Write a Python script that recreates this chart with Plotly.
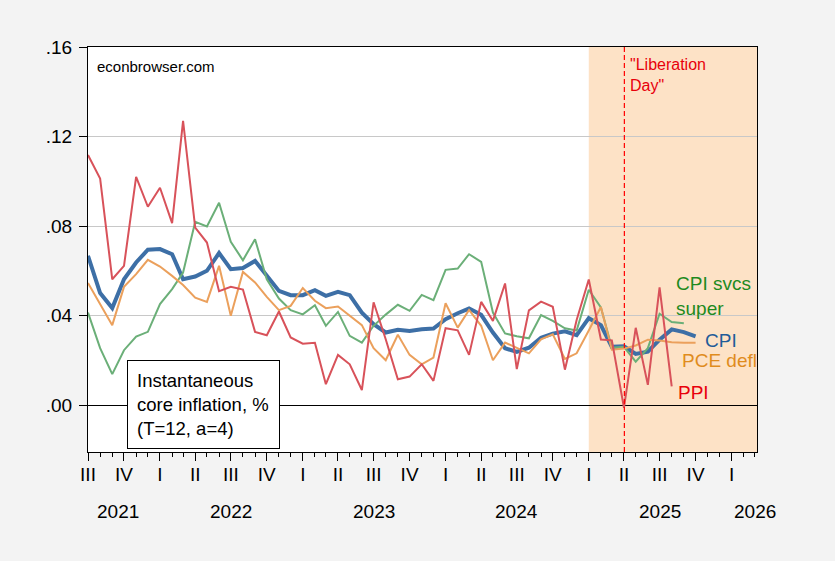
import plotly.graph_objects as go
import pandas as pd

# ---------------- data ----------------
start_month = "2021-07-01"

cpi = [0.0667, 0.0500, 0.0433, 0.0562, 0.0637, 0.0694, 0.0697, 0.0674, 0.0562, 0.0574,
       0.0600, 0.0679, 0.0607, 0.0612, 0.0644, 0.0577, 0.0510, 0.0491, 0.0491, 0.0513,
       0.0488, 0.0506, 0.0491, 0.0413, 0.0361, 0.0324, 0.0336, 0.0331, 0.0339, 0.0342,
       0.0384, 0.0410, 0.0431, 0.0403, 0.0324, 0.0254, 0.0237, 0.0256, 0.0301, 0.0319,
       0.0329, 0.0312, 0.0388, 0.0357, 0.0260, 0.0262, 0.0228, 0.0238, 0.0292, 0.0338,
       0.0326, 0.0307]

cpi_svcs_super = [0.0413, 0.0254, 0.0138, 0.0245, 0.0306, 0.0327, 0.0451, 0.0518, 0.0592, 0.0819,
                  0.0798, 0.0904, 0.0729, 0.0647, 0.0741, 0.0562, 0.0476, 0.0424, 0.0405, 0.0446,
                  0.0354, 0.0416, 0.0309, 0.0279, 0.0354, 0.0404, 0.0448, 0.0421, 0.0492, 0.0469,
                  0.0604, 0.0610, 0.0674, 0.0640, 0.0413, 0.0320, 0.0307, 0.0298, 0.0402, 0.0376,
                  0.0343, 0.0333, 0.0515, 0.0436, 0.0256, 0.0260, 0.0194, 0.0254, 0.0408, 0.0371,
                  0.0365]

pce_defl = [0.0545, 0.0451, 0.0357, 0.0528, 0.0585, 0.0649, 0.0619, 0.0577, 0.0536, 0.0480,
            0.0461, 0.0622, 0.0399, 0.0595, 0.0548, 0.0483, 0.0424, 0.0443, 0.0523, 0.0466,
            0.0433, 0.0440, 0.0400, 0.0357, 0.0254, 0.0200, 0.0314, 0.0224, 0.0182, 0.0212,
            0.0455, 0.0346, 0.0425, 0.0354, 0.0200, 0.0279, 0.0255, 0.0231, 0.0293, 0.0316,
            0.0206, 0.0231, 0.0333, 0.0438, 0.0247, 0.0252, 0.0266, 0.0292, 0.0288, 0.0281,
            0.0278, 0.0278]

ppi = [0.1117, 0.1012, 0.0562, 0.0622, 0.1020, 0.0886, 0.0971, 0.0813, 0.1270, 0.0793,
       0.0726, 0.0509, 0.0528, 0.0516, 0.0327, 0.0312, 0.0418, 0.0302, 0.0274, 0.0278,
       0.0093, 0.0224, 0.0182, 0.0067, 0.0459, 0.0294, 0.0115, 0.0127, 0.0182, 0.0108,
       0.0343, 0.0334, 0.0224, 0.0461, 0.0376, 0.0543, 0.0161, 0.0423, 0.0462, 0.0439,
       0.0158, 0.0380, 0.0561, 0.0293, 0.0289, -0.0012, 0.0345, 0.0090, 0.0526, 0.0083]

quarter_labels = ["III", "IV", "I", "II", "III", "IV", "I", "II", "III", "IV",
                  "I", "II", "III", "IV", "I", "II", "III", "IV", "I"]
year_labels = ["2021", "2022", "2023", "2024", "2025", "2026"]
year_label_dates = ["2021-09-15", "2022-07-01", "2023-07-01", "2024-07-01", "2025-07-01", "2026-03-01"]

y_tick_vals = [0.0, 0.04, 0.08, 0.12, 0.16]
y_tick_text = [".00", ".04", ".08", ".12", ".16"]

shade_start = "2025-01-01"
liberation_day = "2025-04-02"
x_end = "2026-03-07"

# ---------------- figure ----------------
FONT = "Liberation Sans, Arial, sans-serif"

def months_for(series):
    return pd.date_range(start_month, periods=len(series), freq="MS")

quarter_ticks = pd.date_range(start_month, periods=len(quarter_labels), freq="QS")

fig = go.Figure()
fig.add_trace(go.Scatter(x=months_for(cpi), y=cpi, mode="lines", name="CPI",
                         line=dict(color="#3d6fa6", width=4)))
fig.add_trace(go.Scatter(x=months_for(cpi_svcs_super), y=cpi_svcs_super, mode="lines",
                         name="CPI svcs super", line=dict(color="#6baf78", width=2)))
fig.add_trace(go.Scatter(x=months_for(pce_defl), y=pce_defl, mode="lines", name="PCE defl",
                         line=dict(color="#eba05c", width=2)))
fig.add_trace(go.Scatter(x=months_for(ppi), y=ppi, mode="lines", name="PPI",
                         line=dict(color="#d8525a", width=2)))

fig.add_shape(type="rect", xref="x", yref="paper", x0=shade_start, x1=x_end, y0=0, y1=1,
              fillcolor="#fde2c6", line=dict(width=0), layer="below")
fig.add_shape(type="line", xref="x", yref="paper", x0=liberation_day, x1=liberation_day,
              y0=0, y1=1, line=dict(color="#ff0000", width=1.2, dash="5px,3px"), layer="above")

annotations = []
for txt, xd in zip(year_labels, year_label_dates):
    annotations.append(dict(x=xd, y=-0.146, xref="x", yref="paper", text=txt, showarrow=False,
                            xanchor="center", yanchor="middle",
                            font=dict(family=FONT, size=19, color="black")))

annotations += [
    dict(x=0.011, y=0.953, xref="paper", yref="paper", text="econbrowser.com", showarrow=False,
         xanchor="left", yanchor="middle", font=dict(family=FONT, size=15, color="black")),
    dict(x="2025-04-10", y=0.931, xref="x", yref="paper", text="\"Liberation<br>Day\"",
         showarrow=False, xanchor="left", yanchor="middle", align="left",
         font=dict(family=FONT, size=16, color="#e8000b")),
    dict(x="2025-08-08", y=0.0489, xref="x", yref="y", text="CPI svcs<br>super", showarrow=False,
         xanchor="left", yanchor="middle", align="left",
         font=dict(family=FONT, size=19, color="#1e8a1e")),
    dict(x="2025-10-20", y=0.029, xref="x", yref="y", text="CPI", showarrow=False,
         xanchor="left", yanchor="middle", font=dict(family=FONT, size=19, color="#1f5c99")),
    dict(x="2025-08-22", y=0.0201, xref="x", yref="y", text="PCE defl", showarrow=False,
         xanchor="left", yanchor="middle", font=dict(family=FONT, size=19, color="#e08c1e")),
    dict(x="2025-08-13", y=0.0054, xref="x", yref="y", text="PPI", showarrow=False,
         xanchor="left", yanchor="middle", font=dict(family=FONT, size=19, color="#e8000b")),
    dict(x=0.0583, y=0.0074, xref="paper", yref="paper",
         text="Instantaneous<br>core inflation, %<br>(T=12, a=4)", showarrow=False,
         xanchor="left", yanchor="bottom", align="left", bgcolor="white",
         bordercolor="black", borderwidth=1, borderpad=9, width=133, height=69,
         font=dict(family=FONT, size=18.5, color="black")),
]

fig.update_layout(
    width=835, height=561,
    margin=dict(l=88, r=78, t=47, b=109),
    paper_bgcolor="#f3f3f3", plot_bgcolor="white",
    showlegend=False,
    font=dict(family=FONT, size=19, color="black"),
    annotations=annotations,
    xaxis=dict(type="date", range=[start_month, x_end], tickmode="array",
               tickvals=quarter_ticks, ticktext=quarter_labels,
               ticks="outside", ticklen=8, tickcolor="black", tickwidth=1,
               showline=True, linecolor="black", linewidth=1, mirror=True,
               showgrid=False, zeroline=False, ticklabelstandoff=-3,
               tickfont=dict(family=FONT, size=19, color="black"),
               minor=dict(ticks="outside", ticklen=4, tickcolor="black", tickmode="linear",
                          dtick="M1", tick0=start_month, showgrid=False)),
    yaxis=dict(range=[-0.021, 0.16], tickmode="array", tickvals=y_tick_vals, ticktext=y_tick_text,
               ticks="outside", ticklen=8, tickcolor="black", tickwidth=1,
               showline=True, linecolor="black", linewidth=1, mirror=True,
               showgrid=True, gridcolor="#c8c8c8", gridwidth=1,
               zeroline=True, zerolinecolor="black", zerolinewidth=1, ticklabelstandoff=3,
               tickfont=dict(family=FONT, size=19, color="black")),
)

fig.write_html("out.html", config={"displayModeBar": False},
               post_script="document.body.style.margin='0px';document.body.style.background='#f3f3f3';")
